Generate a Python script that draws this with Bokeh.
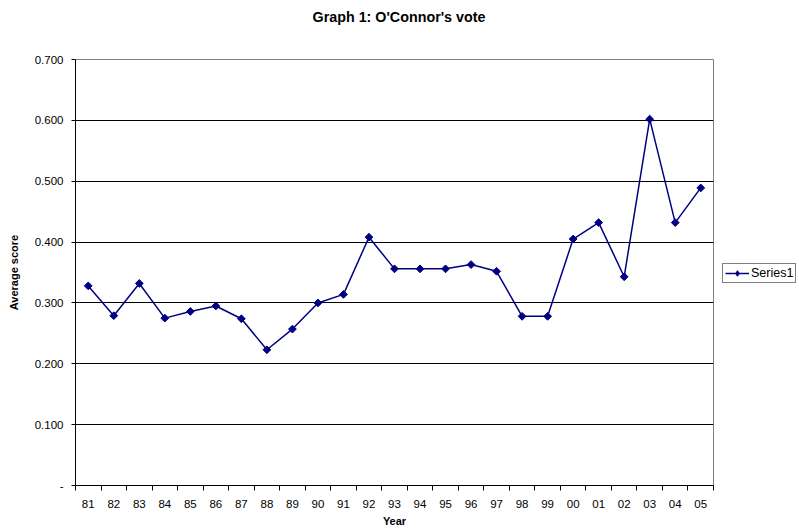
from bokeh.plotting import figure
from bokeh.layouts import row, column
from bokeh.models import (Range1d, FixedTicker, CustomJSTickFormatter, Legend, LegendItem)
from bokeh.core.properties import value
from bokeh.embed import file_html
from bokeh.resources import INLINE
import math

# Court terms (two-digit years) and O'Connor's average score per term
years = ["81", "82", "83", "84", "85", "86", "87", "88", "89", "90", "91", "92", "93",
         "94", "95", "96", "97", "98", "99", "00", "01", "02", "03", "04", "05"]
scores = [0.328, 0.279, 0.332, 0.275, 0.286, 0.295, 0.274, 0.223, 0.257, 0.300,
          0.314, 0.408, 0.356, 0.356, 0.356, 0.363, 0.352, 0.278, 0.278, 0.405,
          0.432, 0.343, 0.602, 0.432, 0.489]
y_ticks = [0.0, 0.1, 0.2, 0.3, 0.4, 0.5, 0.6, 0.7]
title = "Graph 1: O'Connor's vote"
series_name = "Series1"

FONT = "Liberation Sans"
NAVY = "#000080"
W, H = 799, 529
HEAD = 30

xs = [i + 0.5 for i in range(len(years))]


def bare(fig):
    fig.axis.visible = False
    fig.grid.visible = False
    fig.title.visible = False
    return fig


# Heading strip with the chart title
head = bare(figure(width=W, height=HEAD, output_backend="svg", toolbar_location=None,
                   x_range=Range1d(0, W), y_range=Range1d(0, HEAD),
                   min_border=0, outline_line_color=None,
                   background_fill_color="white", border_fill_color="white"))
head.text(x=[W / 2 - 1], y=[HEAD - 16], text=[title], text_align="center",
          text_baseline="middle", text_font=value(FONT), text_font_size="14.3px",
          text_font_style="bold", text_color="black")

p = figure(width=722, height=H - HEAD, output_backend="svg", toolbar_location=None,
           x_range=Range1d(0, len(years)), y_range=Range1d(0, 0.7),
           min_border_left=75, min_border_right=9, min_border_top=59 - HEAD,
           min_border_bottom=43, background_fill_color="white",
           border_fill_color="white", outline_line_color="#808080")
p.title.visible = False

# x axis: labels centred in each category, tick marks on category boundaries
p.xaxis.ticker = FixedTicker(ticks=xs, minor_ticks=list(range(len(years) + 1)))
p.xaxis.formatter = CustomJSTickFormatter(args=dict(labels=years),
                                          code="return labels[Math.floor(tick)];")
p.xaxis.major_tick_out = 0
p.xaxis.major_tick_in = 0
p.xaxis.minor_tick_out = 5
p.xaxis.minor_tick_in = 0
p.xaxis.minor_tick_line_color = "black"
p.xaxis.axis_line_color = "black"
p.xaxis.major_label_standoff = 9
p.xaxis.major_label_text_font = FONT
p.xaxis.major_label_text_font_size = "11.5px"
p.xaxis.major_label_text_color = "black"
p.xaxis.axis_label = "Year"
p.xaxis.axis_label_text_font = FONT
p.xaxis.axis_label_text_font_size = "11px"
p.xaxis.axis_label_text_font_style = "bold"
p.xaxis.axis_label_text_color = "black"
p.xaxis.axis_label_standoff = 4

# y axis
p.yaxis.ticker = FixedTicker(ticks=y_ticks, minor_ticks=[])
p.yaxis.formatter = CustomJSTickFormatter(
    code='return Math.abs(tick) < 1e-9 ? "-" : tick.toFixed(3);')
p.yaxis.major_tick_out = 4
p.yaxis.major_tick_in = 0
p.yaxis.major_tick_line_color = "black"
p.yaxis.axis_line_color = "black"
p.yaxis.major_label_standoff = 8
p.yaxis.major_label_text_font = FONT
p.yaxis.major_label_text_font_size = "11.5px"
p.yaxis.major_label_text_color = "black"
p.yaxis.axis_label = "Average score"
p.yaxis.axis_label_text_font = FONT
p.yaxis.axis_label_text_font_size = "11px"
p.yaxis.axis_label_text_font_style = "bold"
p.yaxis.axis_label_text_color = "black"
p.yaxis.axis_label_standoff = 12

p.xgrid.visible = False
p.ygrid.ticker = FixedTicker(ticks=y_ticks)
p.ygrid.grid_line_color = "black"
p.ygrid.grid_line_width = 1

p.line(xs, scores, line_color=NAVY, line_width=1.5)
p.scatter(xs, scores, marker="square", angle=math.pi / 4, size=5.5,
          fill_color=NAVY, line_color=NAVY)

# Legend strip to the right of the chart; its sample glyphs lie outside the view
leg = bare(figure(width=W - 722, height=H - HEAD, output_backend="svg",
                  toolbar_location=None, x_range=Range1d(-100, -99),
                  y_range=Range1d(0, 1), min_border=0, outline_line_color=None,
                  background_fill_color="white", border_fill_color="white"))
l_line = leg.line(xs, scores, line_color=NAVY, line_width=1.5)
l_pts = leg.scatter(xs, scores, marker="diamond", size=9,
                    fill_color=NAVY, line_color=NAVY)
legend = Legend(items=[LegendItem(label=series_name, renderers=[l_line, l_pts])],
                location=(0, 202), orientation="vertical",
                border_line_color="black", border_line_width=1,
                background_fill_color="white", background_fill_alpha=1,
                label_text_font=FONT, label_text_font_size="12.5px",
                label_text_color="black", glyph_width=24, glyph_height=14,
                label_height=14, label_standoff=2, padding=2, margin=0,
                spacing=0)
leg.add_layout(legend, "center")

layout = column(head, row(p, leg, spacing=0), spacing=0)
open("out.html", "w").write(file_html(layout, INLINE))
